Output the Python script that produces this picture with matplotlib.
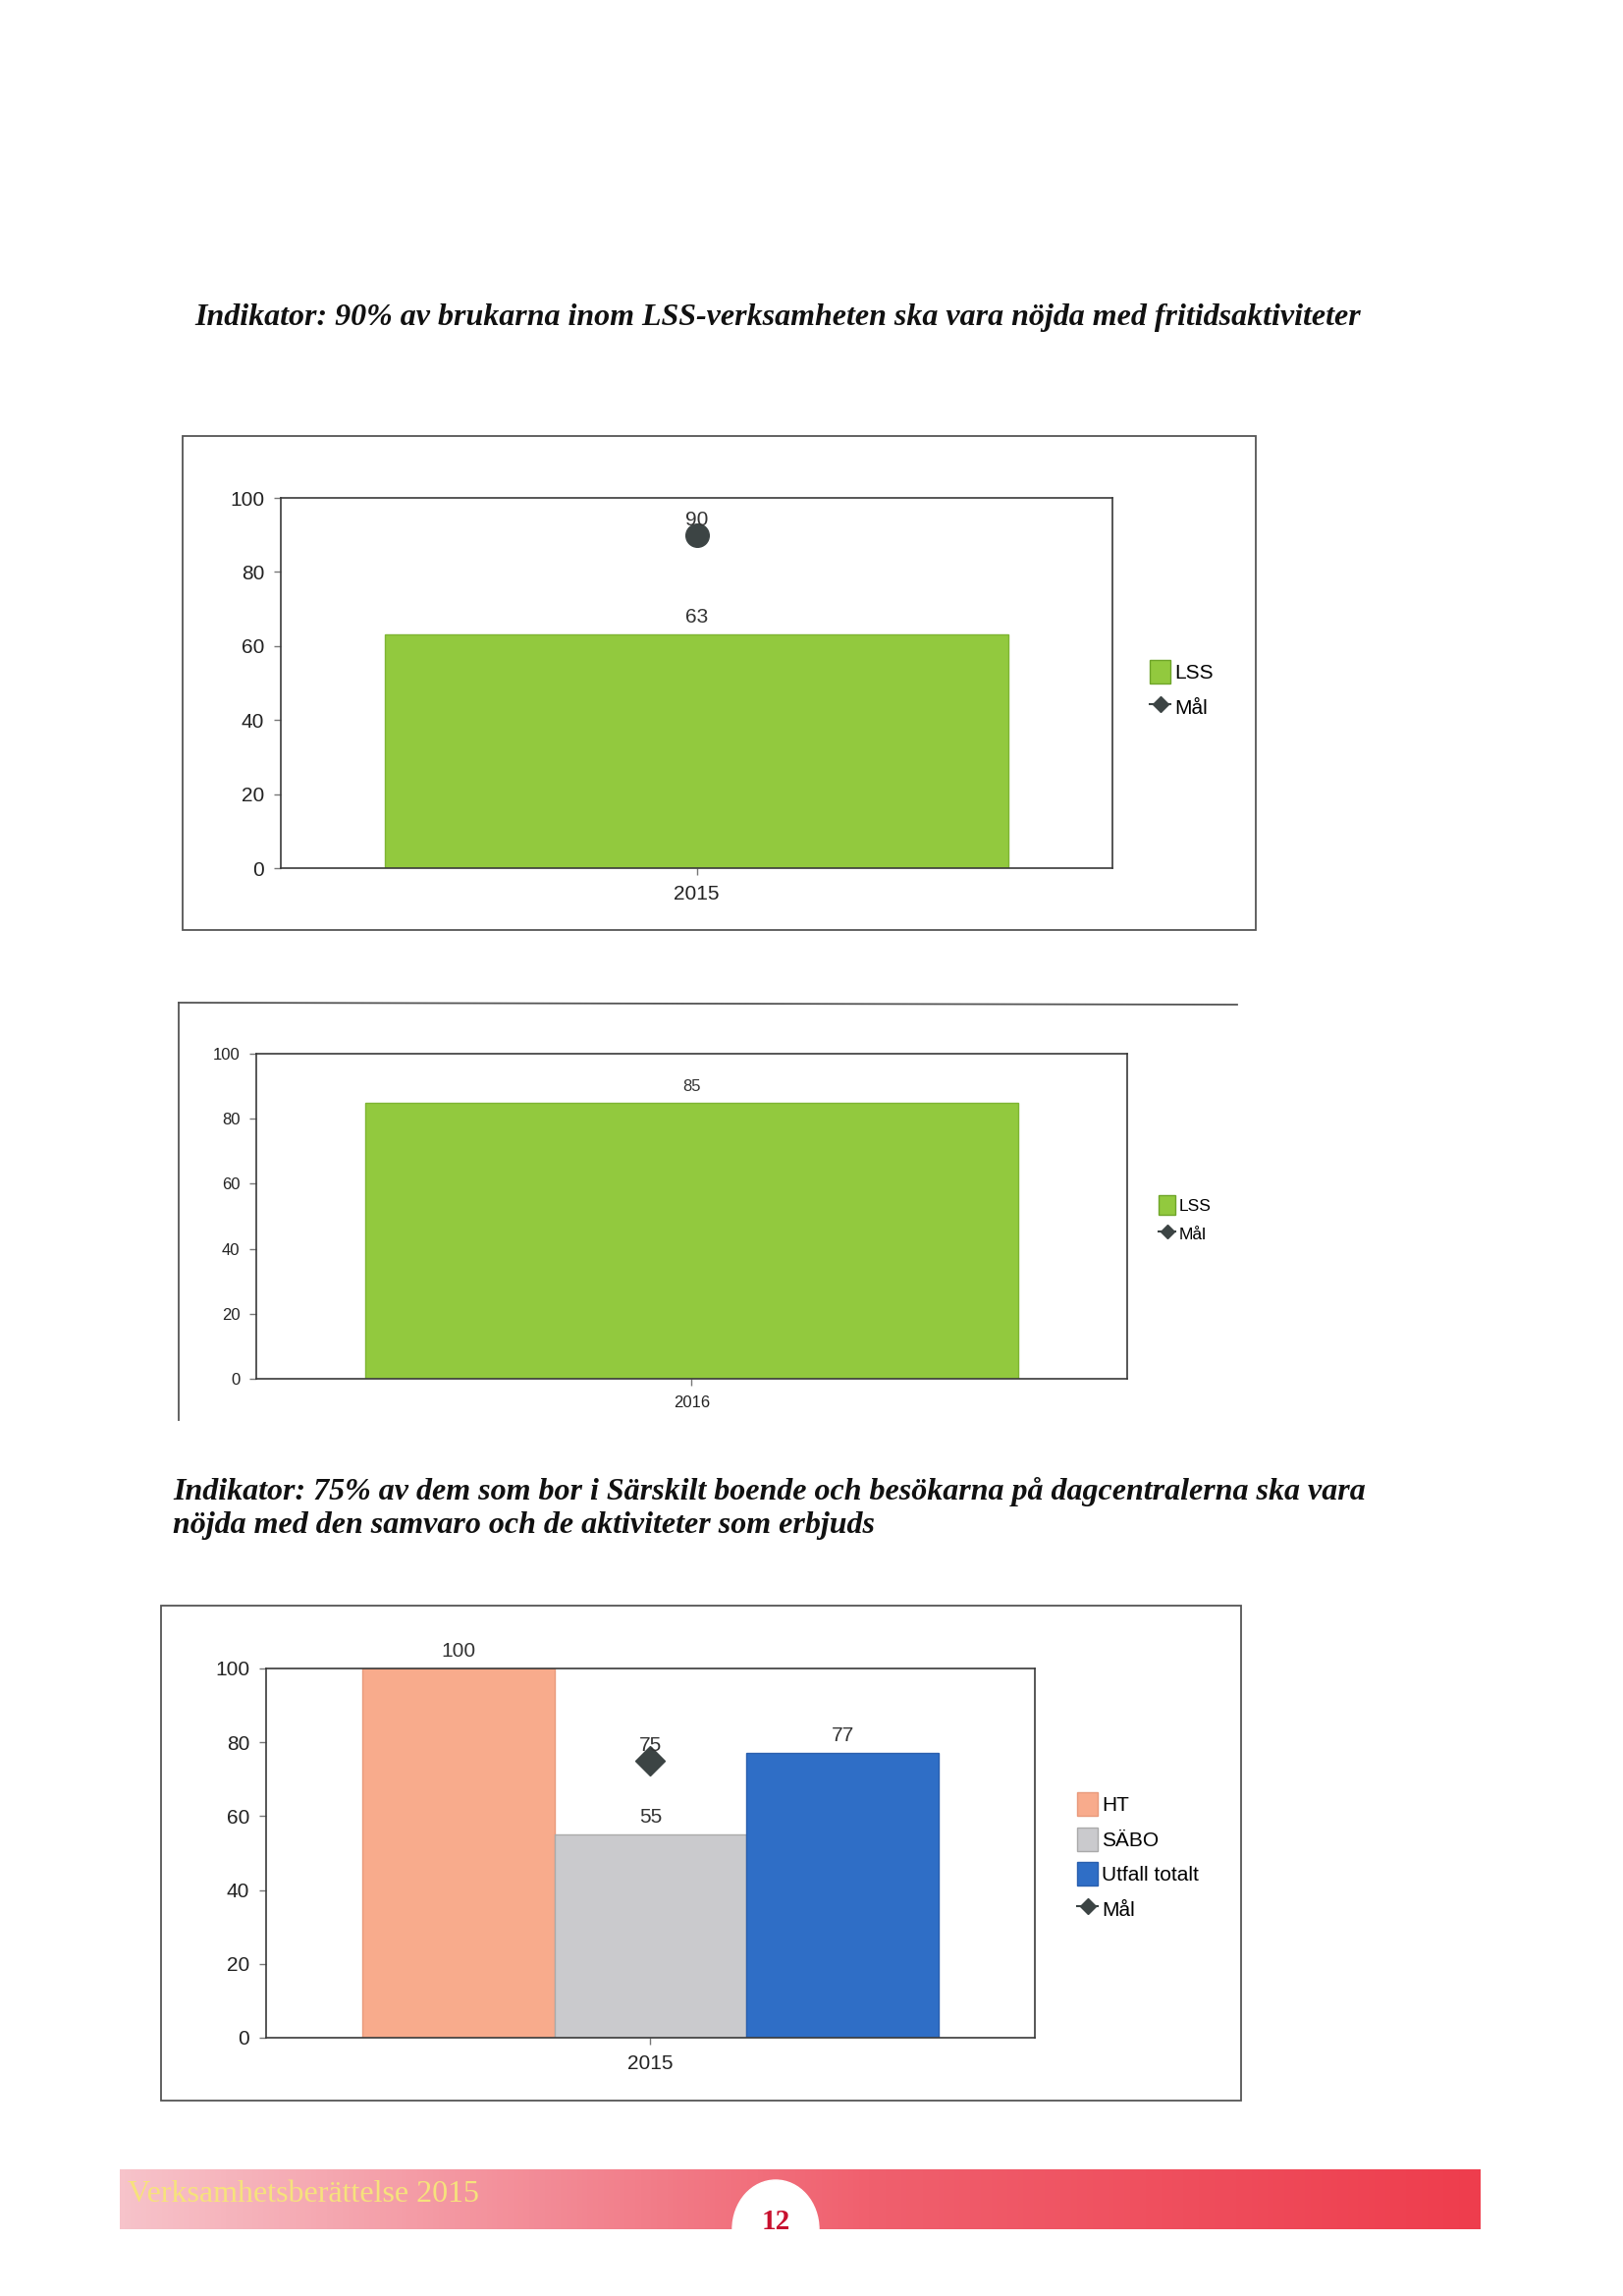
import numpy as np
import matplotlib
matplotlib.use("Agg")
import matplotlib.pyplot as plt
from matplotlib.patches import Patch, Rectangle, Ellipse
from matplotlib.lines import Line2D
from matplotlib.colors import LinearSegmentedColormap

W, H = 1653, 2338

# data
title1 = "Indikator: 90% av brukarna inom LSS-verksamheten ska vara nöjda med fritidsaktiviteter"
title2 = ("Indikator: 75% av dem som bor i Särskilt boende och besökarna på dagcentralerna ska vara\n"
          "nöjda med den samvaro och de aktiviteter som erbjuds")

years1 = ["2015"]
lss1 = [63]
mal1 = [90]

years2 = ["2016"]
lss2 = [85]

years3 = ["2015"]
ht3 = [100]
sabo3 = [55]
utfall3 = [77]
mal3 = [75]

yticks = [0, 20, 40, 60, 80, 100]

GREEN = "#92c93e"
SALMON = "#f8ab8c"
GREY = "#cacacd"
BLUE = "#2f6ec6"
MARK = "#3c4444"
SANS = "Liberation Sans"


def box(x0, y0, x1, y1):
    return [x0 / W, 1 - y1 / H, (x1 - x0) / W, (y1 - y0) / H]


def style_axes(ax, fs):
    ax.set_ylim(0, 100)
    ax.set_xlim(-0.5, 0.5)
    ax.set_yticks(yticks)
    for s in ax.spines.values():
        s.set_color("#3a3a3a")
        s.set_linewidth(1.2)
    ax.tick_params(axis="both", length=5, width=1, color="#777777", pad=7,
                   labelsize=fs, labelcolor="#222222")
    for lab in ax.get_xticklabels() + ax.get_yticklabels():
        lab.set_family(SANS)


def fig_line(fig, xs, ys):
    fig.add_artist(Line2D([x / W for x in xs], [1 - y / H for y in ys],
                          transform=fig.transFigure, color="#555555", lw=1.3))


def add_legend(fig, handles, x, y, fs):
    fig.legend(handles=handles, loc="upper left", bbox_to_anchor=(x / W, 1 - y / H), frameon=False,
               prop={"family": SANS, "size": fs}, handlelength=1.0, handleheight=1.4,
               handletextpad=0.2, labelspacing=0.55, borderaxespad=0)


fig = plt.figure(figsize=(W / 100, H / 100), dpi=100)
fig.patch.set_facecolor("white")

# ---- title 1
fig.text(198 / W, 1 - 323 / H, title1, family="Liberation Serif", style="italic",
         weight="bold", fontsize=23, va="center", ha="left", color="#111111")

# ---- chart 1
fig.add_artist(Rectangle((186 / W, 1 - 947 / H), (1279 - 186) / W, (947 - 444) / H,
                         transform=fig.transFigure, fill=False, ec="#555555", lw=1.3))
ax1 = fig.add_axes(box(286, 507, 1133, 884))
x1 = np.arange(len(years1))
b = ax1.bar(x1, lss1, width=0.75, color=GREEN, edgecolor="#7fb533", lw=1, label="LSS")
ax1.bar_label(b, padding=6, fontsize=15, family=SANS, color="#333333")
ax1.plot(x1, mal1, marker="o", ms=17, color=MARK, lw=0, label="Mål")
for xi, v in zip(x1, mal1):
    ax1.text(xi, v + 1.5, str(v), ha="center", va="bottom", fontsize=15, family=SANS, color="#333333")
ax1.set_xticks(x1, years1)
style_axes(ax1, 15)
h1 = [Patch(facecolor=GREEN, edgecolor="#6fa52a", label="LSS"),
      Line2D([], [], color=MARK, marker="D", ms=8, lw=1.5, label="Mål")]
add_legend(fig, h1, 1163, 664, 15)

# ---- chart 2
fig_line(fig, [182, 1260], [1021, 1023])
fig_line(fig, [182, 182], [1021, 1446])
ax2 = fig.add_axes(box(261, 1073, 1148, 1404))
x2 = np.arange(len(years2))
b = ax2.bar(x2, lss2, width=0.75, color=GREEN, edgecolor="#7fb533", lw=1, label="LSS")
ax2.bar_label(b, padding=6, fontsize=12, family=SANS, color="#333333")
ax2.set_xticks(x2, years2)
style_axes(ax2, 12)
h2 = [Patch(facecolor=GREEN, edgecolor="#6fa52a", label="LSS"),
      Line2D([], [], color=MARK, marker="D", ms=7, lw=1.5, label="Mål")]
add_legend(fig, h2, 1173, 1210, 12.5)

# ---- title 2
fig.text(176 / W, 1 - 1536 / H, title2, family="Liberation Serif", style="italic",
         weight="bold", fontsize=23, va="center", ha="left", color="#111111", linespacing=1.2)

# ---- chart 3
fig.add_artist(Rectangle((164 / W, 1 - 2139 / H), (1264 - 164) / W, (2139 - 1635) / H,
                         transform=fig.transFigure, fill=False, ec="#555555", lw=1.3))
ax3 = fig.add_axes(box(271, 1699, 1054, 2075))
x3 = np.arange(len(years3))
bw = 0.25
series3 = [("HT", ht3, SALMON, "#e89a7c"), ("SÄBO", sabo3, GREY, "#aaaaaa"),
           ("Utfall totalt", utfall3, BLUE, "#2a5fae")]
for i, (name, vals, col, ec) in enumerate(series3):
    b = ax3.bar(x3 + (i - 1) * bw, vals, width=bw, color=col, edgecolor=ec, lw=1, label=name)
    ax3.bar_label(b, padding=6, fontsize=15, family=SANS, color="#333333")
ax3.plot(x3, mal3, marker="D", ms=15, color=MARK, lw=0)
for xi, v in zip(x3, mal3):
    ax3.text(xi, v + 1.5, str(v), ha="center", va="bottom", fontsize=15, family=SANS, color="#333333")
ax3.set_xticks(x3, years3)
style_axes(ax3, 15)
h3 = [Patch(facecolor=c, edgecolor=e, label=n) for n, _, c, e in series3]
h3.append(Line2D([], [], color=MARK, marker="D", ms=8, lw=1.5, label="Mål"))
add_legend(fig, h3, 1089, 1817, 15)

# ---- footer band
axf = fig.add_axes(box(122, 2209, 1508, 2270))
cmap = LinearSegmentedColormap.from_list(
    "band", [(0, "#f7c3ca"), (0.3, "#f38d98"), (0.55, "#f0606e"), (1, "#ee3d4d")])
axf.imshow(np.linspace(0, 1, 256)[None, :], aspect="auto", cmap=cmap, extent=[0, 1, 0, 1])
axf.set_xlim(0, 1)
axf.set_ylim(0, 1)
axf.axis("off")
axf.text(0.006, 0.58, "Verksamhetsberättelse 2015", family="Liberation Serif", fontsize=23,
         color="#f6e27c", va="center", ha="left")
fig.add_artist(Ellipse((790 / W, 1 - 2270 / H), 88 / W, 100 / H, transform=fig.transFigure,
                       color="white", zorder=5))
fig.text(790 / W, 1 - 2263 / H, "12", family="Liberation Serif", weight="bold", fontsize=21,
         color="#c8102e", ha="center", va="center", zorder=6)

fig.savefig("out.png", dpi=100)
